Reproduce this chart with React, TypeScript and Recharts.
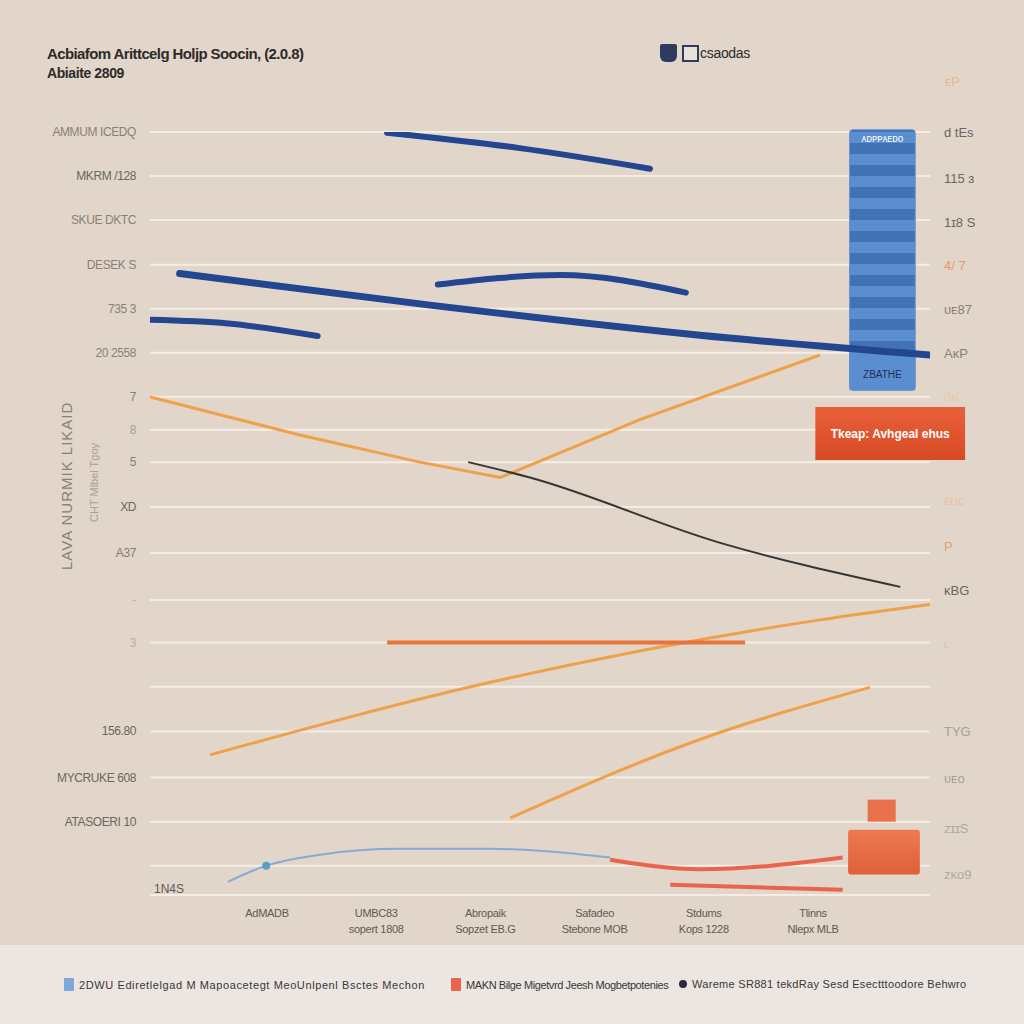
import { LineChart, Line, XAxis, YAxis, CartesianGrid, ReferenceArea, ReferenceDot } from "recharts";

const FONT = "'Liberation Sans', Arial, sans-serif";

const xTicks = [15, 29, 43, 57, 71, 85];
const xLabels = [
  ["AdMADB"],
  ["UMBC83", "sopert 1808"],
  ["Abropaik", "Sopzet EB.G"],
  ["Safadeo", "Stebone MOB"],
  ["Stdums", "Kops 1228"],
  ["Tlinns", "Nlepx MLB"],
];

const leftTicks = [0, 6, 12, 18.3, 24.4, 30.4, 36.2, 42.6, 48.9, 55, 59.4, 63.9, 69.9, 75.9, 81.9, 88, 94, 100];
const leftLabels = ["", "ATASOERI 10", "MYCRUKE 608", "156.80", "", "3", "-", "A37", "XD", "5", "8", "7", "20  2558", "735   3", "DESEK S", "SKUE DKTC", "MKRM /128", "AMMUM ICEDQ"];
const leftColors = ["#777", "#6b6661", "#6b6661", "#6b6661", "#e8b890", "#c8a890", "#e8a878", "#8b7b70", "#6b6661", "#8b8079", "#a8a09a", "#8b8079", "#8b8079", "#8b8079", "#8b8079", "#8b8079", "#6b6661", "#8b8079"];

const rightTicks = [-1.2, 5.2, 12, 18.3, 30.4, 37.6, 43.6, 49.9, 63.9, 69.9, 75.9, 81.9, 87.7, 93.7, 100];
const rightLabels = ["ᴢᴋᴏ9", "ᴢɪɪS", "ᴜᴇᴏ", "TYG", "ʟ", "ᴋBG", "P", "ᴇᴜᴄ", "0K", "AᴋP", "ᴜᴇ87", "4/ 7", "1ɪ8 S", "115 ɜ", "d tEs"];
const rightColors = ["#b0a8a2", "#b0a8a2", "#a8a09a", "#a8a09a", "#e8c0a0", "#6b6661", "#e0a070", "#e8c0a8", "#e8c8b0", "#8b8079", "#8b8079", "#e89870", "#6b6661", "#6b6661", "#6b6661"];

// series
const blueTop = [{ x: 30.4, y: 99.9 }, { x: 47.4, y: 97.8 }, { x: 64.1, y: 95.0 }];
const blueLong = [{ x: 3.8, y: 80.7 }, { x: 35.9, y: 76.4 }, { x: 70.5, y: 72.3 }, { x: 100, y: 69.6 }];
const blueShort = [{ x: 0, y: 74.4 }, { x: 10, y: 73.9 }, { x: 21.5, y: 72.2 }];
const blueMid = [{ x: 36.9, y: 79.2 }, { x: 52.6, y: 80.5 }, { x: 68.7, y: 78.1 }];
const orangeV = [{ x: 0, y: 63.9 }, { x: 19.2, y: 58.7 }, { x: 34.6, y: 55.0 }, { x: 44.9, y: 52.9 }, { x: 62.8, y: 60.8 }, { x: 85.9, y: 69.6 }];
const darkLine = [{ x: 40.8, y: 55.0 }, { x: 48.7, y: 52.9 }, { x: 73.1, y: 44.0 }, { x: 96.2, y: 38.0 }];
const orangeRise = [{ x: 7.7, y: 15.1 }, { x: 44.9, y: 25.3 }, { x: 85.9, y: 33.5 }, { x: 100, y: 35.6 }];
const orangeFlat = [{ x: 30.4, y: 30.4 }, { x: 76.3, y: 30.4 }];
const orangeLow = [{ x: 46.2, y: 6.5 }, { x: 70.5, y: 17.2 }, { x: 92.3, y: 24.3 }];
const lightBlue = [{ x: 10, y: -2.2 }, { x: 14.9, y: 0 }, { x: 21.8, y: 1.5 }, { x: 32, y: 2.3 }, { x: 43.6, y: 2.3 }, { x: 59, y: 1.1 }];
const redUpper = [{ x: 59, y: 0.8 }, { x: 70.5, y: -0.5 }, { x: 88.8, y: 1.1 }];
const redLower = [{ x: 66.7, y: -2.6 }, { x: 88.8, y: -3.3 }];

const legendItems = [
  { label: "2DWU Ediretlelgad M Mapoacetegt MeoUnlpenl Bsctes Mechon", color: "#7ea8d8", shape: "square", left: 64, spacing: 0.6 },
  { label: "MAKN Bilge Migetvrd Jeesh Mogbetpotenies", color: "#e8644c", shape: "square", left: 451, spacing: -0.4 },
  { label: "Wareme SR881 tekdRay Sesd Esectttoodore Behwro", color: "#2a2a3a", shape: "circle", left: 679, spacing: 0.3 },
];

function LeftTick(props: any) {
  const i = leftTicks.indexOf(props.payload.value);
  return (
    <text x={props.x - 6} y={props.y} dy={4} textAnchor="end" fontSize={12} letterSpacing={-0.4} fill={leftColors[i]} fontFamily={FONT}>
      {leftLabels[i]}
    </text>
  );
}

function RightTick(props: any) {
  const i = rightTicks.indexOf(props.payload.value);
  return (
    <text x={props.x + 6} y={props.y} dy={5} textAnchor="start" fontSize={13} fill={rightColors[i]} fontFamily={FONT}>
      {rightLabels[i]}
    </text>
  );
}

function BottomTick(props: any) {
  const i = xTicks.indexOf(props.payload.value);
  const lines = xLabels[i] || [];
  return (
    <text x={props.x} y={props.y} textAnchor="middle" fontSize={11} letterSpacing={-0.3} fill="#5f5a55" fontFamily={FONT}>
      {lines.map((l, k) => (
        <tspan key={k} x={props.x} dy={k === 0 ? 14 : 16}>{l}</tspan>
      ))}
    </text>
  );
}

export default function App() {
  const lineProps = { isAnimationActive: false, dot: false, yAxisId: "l", type: "monotone" as const, dataKey: "y" };
  return (
    <div style={{ position: "relative", width: 1024, height: 1024, background: "#e1d6c9", fontFamily: FONT, overflow: "hidden" }}>
      <style>{"body{margin:0}"}</style>
      <div style={{ position: "absolute", left: 47, top: 45, fontSize: 15, fontWeight: 700, letterSpacing: -0.6, color: "#2e2a2a", whiteSpace: "nowrap" }}>
        Acbiafom Arittcelg Holjp Soocin, (2.0.8)
      </div>
      <div style={{ position: "absolute", left: 47, top: 65, fontSize: 14, fontWeight: 700, letterSpacing: -0.4, color: "#2e2a2a" }}>Abiaite 2809</div>

      <div style={{ position: "absolute", left: 660, top: 44, display: "flex", alignItems: "center", gap: 5 }}>
        <div style={{ width: 17, height: 18, background: "#2e3a5e", borderRadius: "2px 2px 6px 6px" }} />
        <div style={{ width: 13, height: 13, border: "2px solid #2e3a5e", background: "#e8e2da" }} />
        <span style={{ fontSize: 14, color: "#2e2a2a", marginLeft: -4, letterSpacing: -0.3 }}>csaodas</span>
      </div>

      <div style={{ position: "absolute", left: 945, top: 74, fontSize: 13, color: "#e8b890" }}>ᴇP</div>
      <div style={{ position: "absolute", left: 154, top: 882, fontSize: 12, color: "#5f5a55" }}>1N4S</div>
      <div style={{ position: "absolute", left: 58, top: 400, height: 170, writingMode: "vertical-rl", transform: "rotate(180deg)", fontSize: 15, color: "#8a8078", letterSpacing: 1 }}>
        LAVA NURMIK LIKAID
      </div>
      <div style={{ position: "absolute", left: 88, top: 392, height: 130, writingMode: "vertical-rl", transform: "rotate(180deg)", fontSize: 11, color: "#aaa098" }}>
        CHT Mlbel Tgoy
      </div>

      <div style={{ position: "absolute", left: 0, top: 0 }}>
        <LineChart width={1024} height={945} margin={{ top: 132, right: 34, bottom: 0, left: 50 }}>
          <defs>
            <pattern id="stripes" patternUnits="userSpaceOnUse" width={10} height={22}>
              <rect width={10} height={22} fill="#5b8ed0" />
              <rect y={11} width={10} height={11} fill="#4272b6" />
            </pattern>
            <linearGradient id="orangeBox" x1="0" y1="0" x2="0" y2="1">
              <stop offset="0%" stopColor="#e8603a" />
              <stop offset="100%" stopColor="#d84a26" />
            </linearGradient>
            <linearGradient id="orangeLowBox" x1="0" y1="0" x2="0" y2="1">
              <stop offset="0%" stopColor="#ec7a50" />
              <stop offset="100%" stopColor="#e0603a" />
            </linearGradient>
          </defs>
          <CartesianGrid yAxisId="l" vertical={false} stroke="#f4ede5" strokeWidth={2} />
          <XAxis dataKey="x" type="number" domain={[0, 100]} ticks={xTicks} allowDataOverflow interval={0} height={50} axisLine={false} tickLine={false} tick={BottomTick} />
          <YAxis yAxisId="l" type="number" domain={[-4, 100]} ticks={leftTicks} allowDataOverflow interval={0} width={100} axisLine={false} tickLine={false} tick={LeftTick} />
          <YAxis yAxisId="r" orientation="right" type="number" domain={[-4, 100]} ticks={rightTicks} allowDataOverflow interval={0} width={60} axisLine={false} tickLine={false} tick={RightTick} />

          <ReferenceArea yAxisId="l" x1={89.7} x2={98.1} y1={64.8} y2={100.3} fill="url(#stripes)" fillOpacity={1} stroke="#5b8ed0" ifOverflow="visible" radius={3}
            label={{ value: "ᴀᴅᴘᴘᴀᴇᴅᴏ", position: "insideTop", fill: "#ffffff", fontSize: 10, fontFamily: FONT }} />
          <ReferenceArea yAxisId="l" x1={89.7} x2={98.1} y1={64.8} y2={69} fill="#5b8ed0" fillOpacity={1} ifOverflow="visible"
            label={{ value: "ZBATHE", position: "center", fill: "#1e2e55", fontSize: 10, fontFamily: FONT }} />
          <ReferenceArea yAxisId="l" x1={85.3} x2={104.5} y1={55.3} y2={62.5} fill="url(#orangeBox)" fillOpacity={1} ifOverflow="visible"
            label={{ value: "Tkeap: Avhgeal ehus", position: "center", fill: "#ffffff", fontSize: 12, fontWeight: 700, fontFamily: FONT }} />
          <ReferenceArea yAxisId="l" x1={89.5} x2={98.7} y1={-1.2} y2={4.9} fill="url(#orangeLowBox)" fillOpacity={1} ifOverflow="visible" radius={3} />
          <ReferenceArea yAxisId="l" x1={92} x2={95.6} y1={6} y2={9} fill="#e8704a" fillOpacity={1} ifOverflow="visible" />

          <Line {...lineProps} type="linear" data={orangeV} stroke="#f0a04a" strokeWidth={3} />
          <Line {...lineProps} data={darkLine} stroke="#353535" strokeWidth={2} />
          <Line {...lineProps} data={orangeRise} stroke="#f0a04a" strokeWidth={3} />
          <Line {...lineProps} data={orangeFlat} stroke="#e8743c" strokeWidth={4} />
          <Line {...lineProps} data={orangeLow} stroke="#f0a04a" strokeWidth={3} />
          <Line {...lineProps} data={lightBlue} stroke="#86aad6" strokeWidth={2} />
          <Line {...lineProps} data={redUpper} stroke="#e8644c" strokeWidth={4} />
          <Line {...lineProps} data={redLower} stroke="#e8644c" strokeWidth={4} />
          <Line {...lineProps} data={blueTop} stroke="#22468f" strokeWidth={6} strokeLinecap="round" />
          <Line {...lineProps} data={blueLong} stroke="#22468f" strokeWidth={7} strokeLinecap="round" />
          <Line {...lineProps} data={blueShort} stroke="#22468f" strokeWidth={6} strokeLinecap="round" />
          <Line {...lineProps} data={blueMid} stroke="#22468f" strokeWidth={6} strokeLinecap="round" />
          <ReferenceDot yAxisId="l" x={14.9} y={0} r={4} fill="#5a9fc8" stroke="none" />
        </LineChart>
      </div>

      <div style={{ position: "absolute", left: 0, top: 945, width: 1024, height: 79, background: "#ebe6e2" }} />
      {legendItems.map((it, i) => (
        <div key={i} style={{ position: "absolute", left: it.left, top: 978, display: "flex", alignItems: "center", whiteSpace: "nowrap", fontSize: 11, letterSpacing: it.spacing, color: "#3a3636" }}>
          <div style={{ width: it.shape === "circle" ? 8 : 10, height: it.shape === "circle" ? 8 : 13, borderRadius: it.shape === "circle" ? 4 : 1, background: it.color, marginRight: 5, flexShrink: 0 }} />
          <span>{it.label}</span>
        </div>
      ))}
    </div>
  );
}
